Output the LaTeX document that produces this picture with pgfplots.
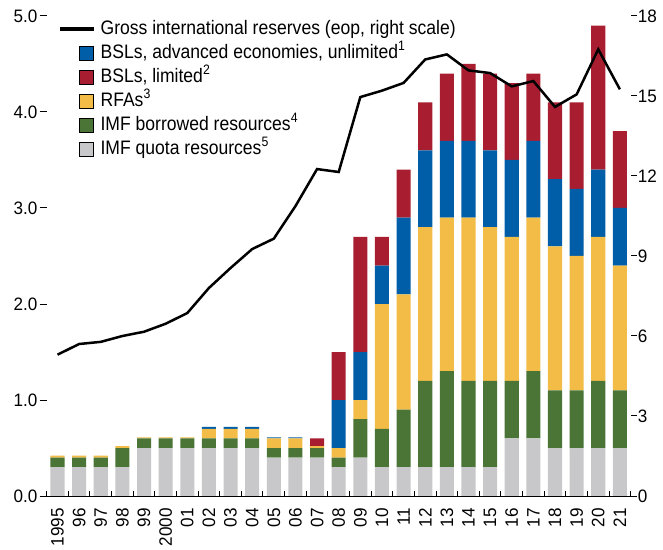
\documentclass[border=0pt]{standalone}
\usepackage{fontspec}
\setmainfont[FakeStretch=0.9]{Liberation Sans}
\newfontfamily\tickfont[FakeStretch=0.95]{Liberation Sans}
\usepackage{pgfplots}
\pgfplotsset{compat=1.18}
\usepackage{pgfplotstable}

\definecolor{cblue}{RGB}{0,94,168}
\definecolor{cred}{RGB}{168,30,48}
\definecolor{cyel}{RGB}{242,188,71}
\definecolor{cgreen}{RGB}{74,117,54}
\definecolor{cgray}{RGB}{200,200,202}

\pgfplotstableread{
x gray green yellow blue red res
0  0.3 0.1 0.02 0    0    5.30
1  0.3 0.1 0.02 0    0    5.70
2  0.3 0.1 0.02 0    0    5.78
3  0.3 0.2 0.02 0    0    6.00
4  0.5 0.1 0.01 0    0    6.16
5  0.5 0.1 0.01 0    0    6.46
6  0.5 0.1 0.01 0    0    6.86
7  0.5 0.1 0.1  0.02 0    7.80
8  0.5 0.1 0.1  0.02 0    8.55
9  0.5 0.1 0.1  0.02 0    9.26
10 0.4 0.1 0.1  0.01 0    9.65
11 0.4 0.1 0.1  0.01 0    10.87
12 0.4 0.1 0.02 0    0.08 12.26
13 0.3 0.1 0.1  0.5  0.5  12.15
14 0.4 0.4 0.2  0.5  1.2  14.96
15 0.3 0.4 1.3  0.4  0.3  15.20
16 0.3 0.6 1.2  0.8  0.5  15.49
17 0.3 0.9 1.6  0.8  0.5  16.37
18 0.3 1.0 1.6  0.8  0.7  16.56
19 0.3 0.9 1.7  0.8  0.8  15.96
20 0.3 0.9 1.6  0.8  0.8  15.86
21 0.6 0.6 1.5  0.8  0.8  15.36
22 0.6 0.7 1.6  0.8  0.7  15.56
23 0.5 0.6 1.5  0.7  0.8  14.59
24 0.5 0.6 1.4  0.7  0.9  15.06
25 0.5 0.7 1.5  0.7  1.5  16.75
26 0.5 0.6 1.3  0.6  0.8  15.25
}\data

\newcommand{\fs}{\fontsize{19.5bp}{23bp}\selectfont}
\newcommand{\ft}{\tickfont\fontsize{18bp}{21bp}\selectfont}

\begin{document}
\begin{tikzpicture}
\pgfplotsset{
  base/.style={width=584bp,height=480bp,scale only axis,xmin=-0.5,xmax=26.5,
    /pgf/number format/assume math mode=true,
    tick label style={font=\ft},
    every tick/.style={black, line width=1bp},
    axis line style={line width=1bp}},
  sq/.style={legend image code/.code={\path[draw=none,fill=none] (0,0) -- (33bp,0); \fill[##1] (19bp,-7bp) rectangle (33bp,7bp);}},
  ln/.style={legend image code/.code={\fill[black] (0,-1.6bp) rectangle (33bp,1.6bp);}},
}
\begin{axis}[base, ybar stacked, bar width=0.65, ymin=0, ymax=5,
  axis x line*=bottom, axis y line*=left, y axis line style={draw=none},
  ytick={0,1,...,5}, tick align=outside, major tick length=7bp,
  y tick label style={/pgf/number format/.cd, fixed, fixed zerofill, precision=1, /tikz/.cd, inner sep=2bp},
  xtick={0,...,26},
  xticklabels={1995,96,97,98,99,2000,01,02,03,04,05,06,07,08,09,10,11,12,13,14,15,16,17,18,19,20,21},
  x tick label style={rotate=90, anchor=east, inner ysep=0bp, inner xsep=5bp},
  xtick style={draw=none},
  legend style={draw=none, fill=none, at={(0.0228,0.993)}, anchor=north west, font=\fs,
    row sep=5.4bp, column sep=7bp, inner sep=0pt,
    nodes={inner sep=0pt, text height=14.5bp, text depth=4.1bp}},
  legend cell align=left]
\addplot[fill=cgray, draw=none, forget plot] table[x=x,y=gray]{\data};
\addplot[fill=cgreen, draw=none, forget plot] table[x=x,y=green]{\data};
\addplot[fill=cyel, draw=none, forget plot] table[x=x,y=yellow]{\data};
\addplot[fill=cblue, draw=none, forget plot] table[x=x,y=blue]{\data};
\addplot[fill=cred, draw=none, forget plot] table[x=x,y=red]{\data};
\addlegendimage{ln}
\addlegendentry{Gross international reserves (eop, right scale)}
\addlegendimage{sq, fill=cblue}
\addlegendentry{BSLs, advanced economies, unlimited\textsuperscript{1}}
\addlegendimage{sq, fill=cred}
\addlegendentry{BSLs, limited\textsuperscript{2}}
\addlegendimage{sq, fill=cyel}
\addlegendentry{RFAs\textsuperscript{3}}
\addlegendimage{sq, fill=cgreen}
\addlegendentry{IMF borrowed resources\textsuperscript{4}}
\addlegendimage{sq, fill=cgray}
\addlegendentry{IMF quota resources\textsuperscript{5}}
\end{axis}
\begin{axis}[base, ymin=0, ymax=18, axis y line*=right, axis x line=none,
  y axis line style={draw=none}, ytick={0,3,...,18}, tick align=outside,
  major tick length=6bp, y tick label style={inner sep=1bp}]
\addplot[black, line width=2.5bp, sharp plot] table[x=x,y=res]{\data};
\end{axis}
\begin{axis}[base, ymin=0, ymax=5, axis x line*=bottom, axis y line=none,
  xtick={-0.5,0.5,...,26.5}, xticklabel=\empty, ytick=\empty,
  tick align=inside, major tick length=5bp]
\addplot[draw=none, forget plot] coordinates {(0,0)};
\end{axis}
\pgfresetboundingbox
\useasboundingbox (-46.7bp,-54bp) rectangle (616.3bp,496bp);
\end{tikzpicture}
\end{document}
